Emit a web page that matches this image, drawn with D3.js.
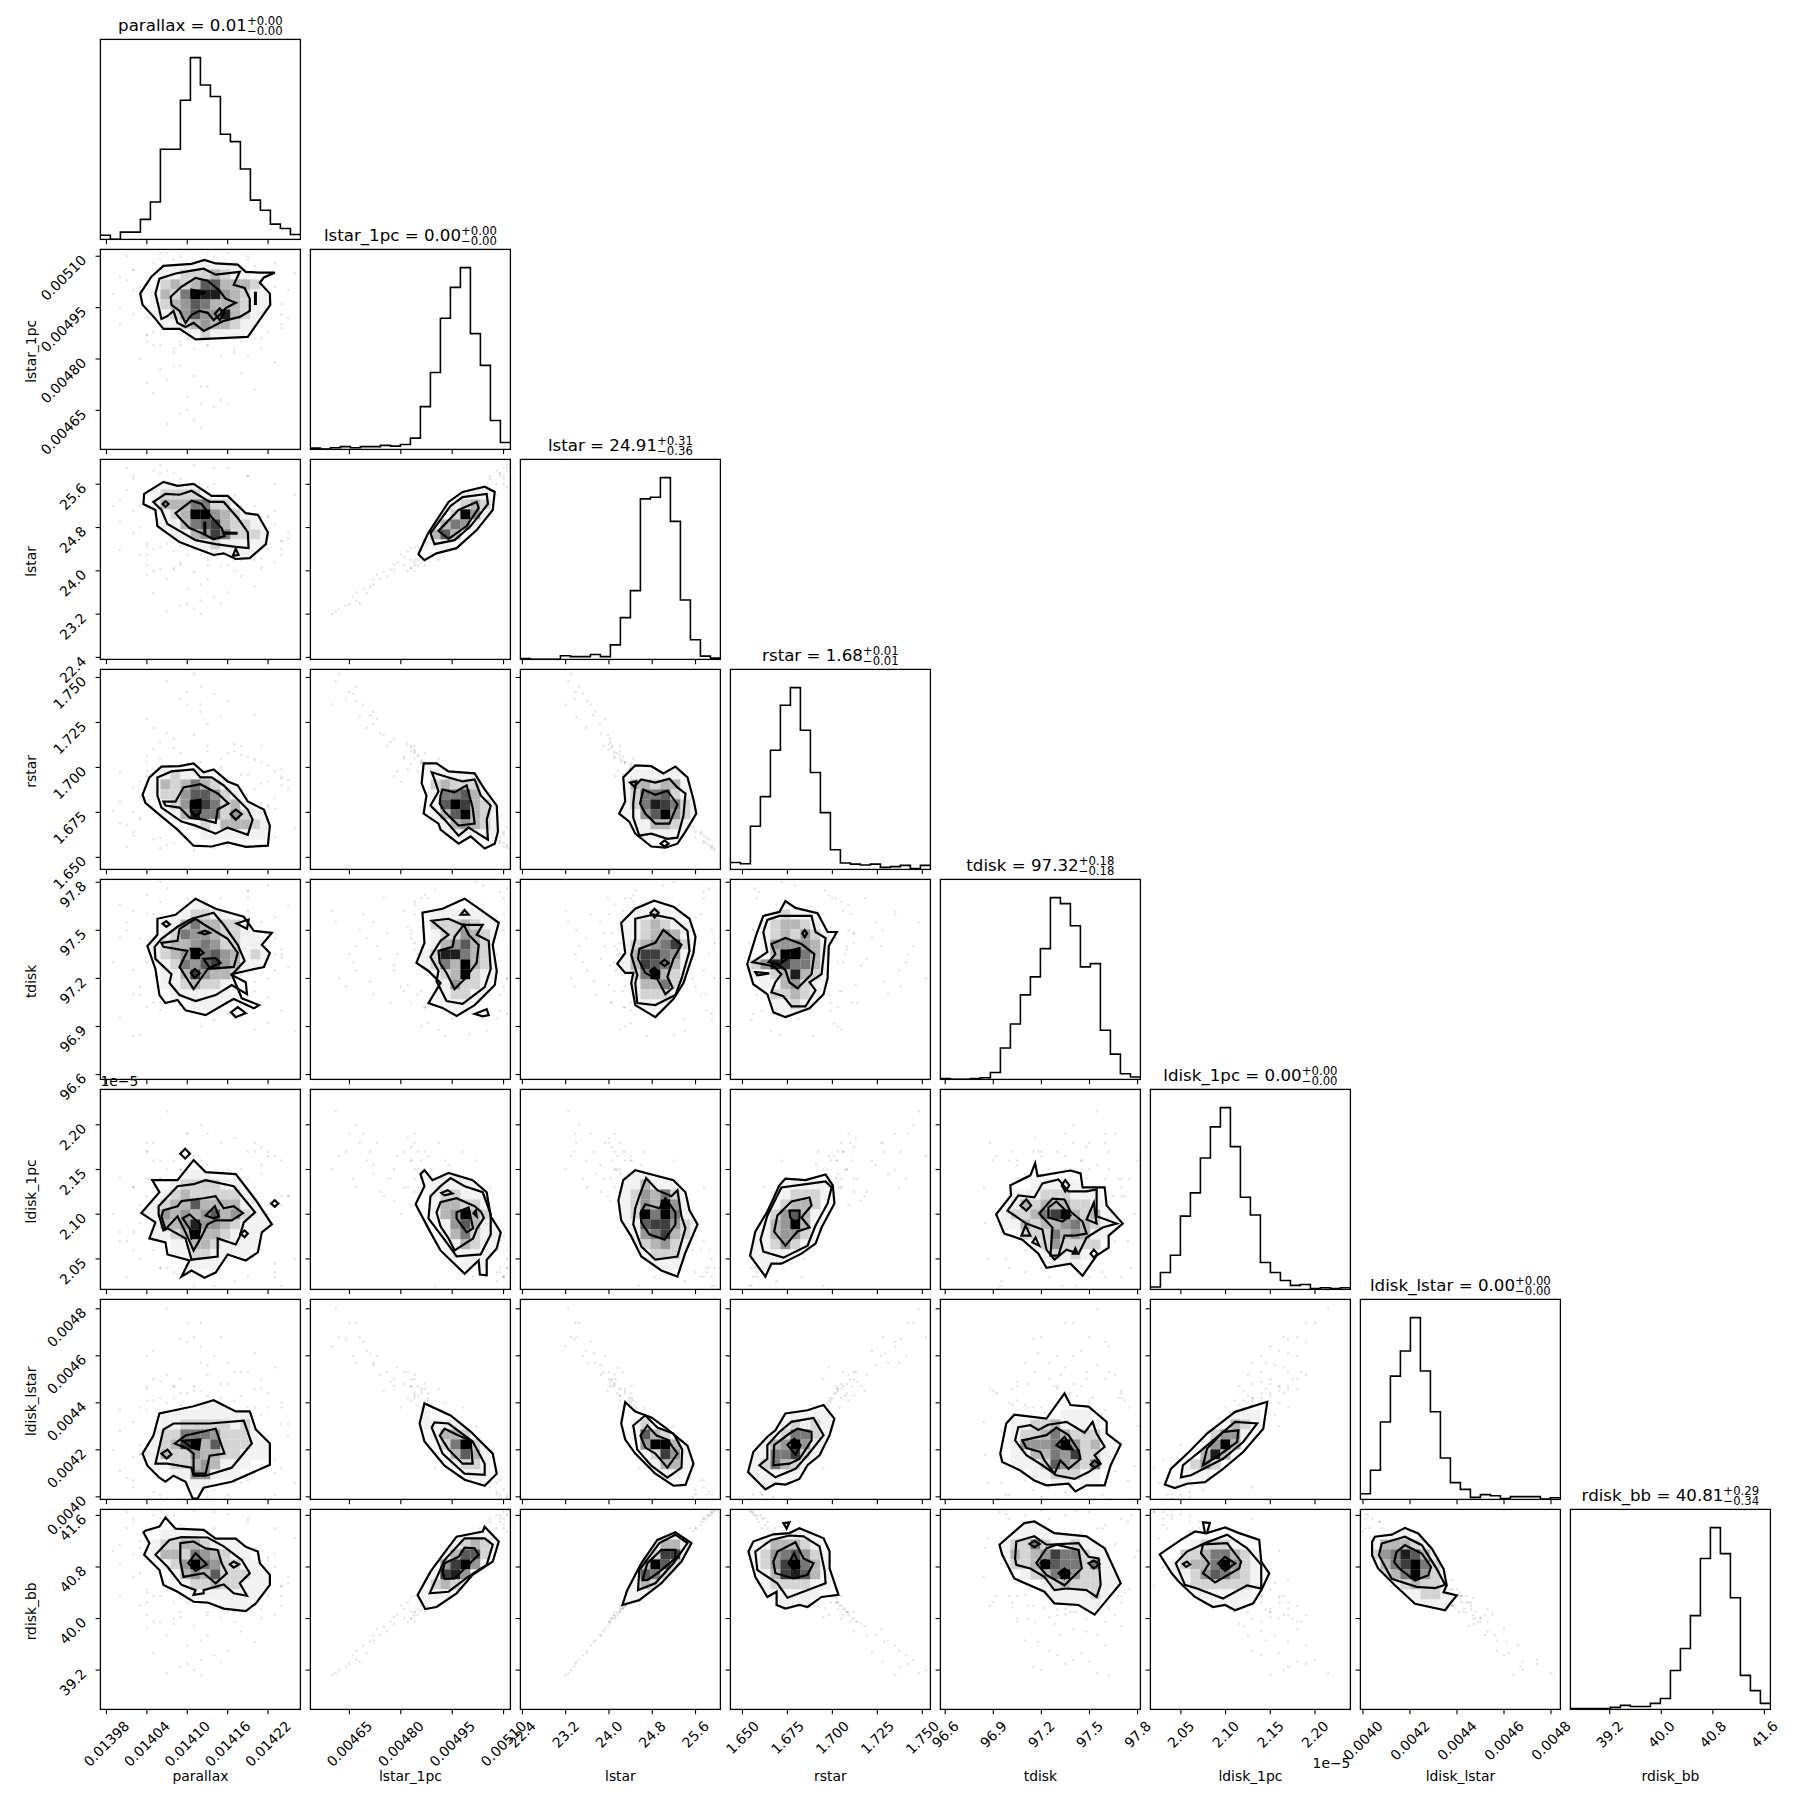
<!DOCTYPE html>
<html><head><meta charset="utf-8">
<script src="https://cdn.jsdelivr.net/npm/d3@7"></script>
<style>html,body{margin:0;padding:0;background:#fff}svg{display:block}text{font-family:"DejaVu Sans";fill:#000}</style>
</head><body><div id="chart"></div>
<script>
const names=["parallax","lstar_1pc","lstar","rstar","tdisk","ldisk_1pc","ldisk_lstar","rdisk_bb"];
const medians=["0.01","0.00","24.91","1.68","97.32","0.00","0.00","40.81"];
const errUp=["0.00","0.00","0.31","0.01","0.18","0.00","0.00","0.29"];
const errDown=["0.00","0.00","0.36","0.01","0.18","0.00","0.00","0.34"];
const ranges=[[.013971,.014268],[.004536,.00512],[22.363,26.06],[1.6433,1.7545],[96.57,97.8176],[2.0159,2.2396],[.003989,.00484],[38.59,41.693]];
const tickValues=[[.01398,.01404,.0141,.01416,.01422],[.00465,.0048,.00495,.0051],[22.4,23.2,24,24.8,25.6],[1.65,1.675,1.7,1.725,1.75],[96.6,96.9,97.2,97.5,97.8],[2.05,2.1,2.15,2.2],[.004,.0042,.0044,.0046,.0048],[39.2,40,40.8,41.6]];
const tickLabels=[["0.01398","0.01404","0.01410","0.01416","0.01422"],["0.00465","0.00480","0.00495","0.00510"],["22.4","23.2","24.0","24.8","25.6"],["1.650","1.675","1.700","1.725","1.750"],["96.6","96.9","97.2","97.5","97.8"],["2.05","2.10","2.15","2.20"],["0.0040","0.0042","0.0044","0.0046","0.0048"],["39.2","40.0","40.8","41.6"]];

// 1-D histograms: 20 bins, peak = 100
const hist_parallax=[2.3,0,4,4,11,20.6,49.6,49.6,76.5,100,84.9,78.6,57.8,53.8,38.7,21.6,16,8.4,6,2.7];
const hist_lstar_1pc=[.7,.2,.9,1.5,.9,1.5,1.5,2.2,1.8,2.7,6.2,23.5,42.3,72.1,89.1,100,63.7,46.2,15.9,3.8];
const hist_lstar=[.4,0,0,0,2,1.5,1.5,2.7,1.5,8,23,37.8,88.3,89.2,100,75.9,32.7,10.8,1.8,.7];
const hist_rstar=[3.8,3.1,23.7,40,65.5,90.3,100,76.5,53.3,31.2,10.8,3.5,2.9,2.4,2.9,1.1,1.5,2.2,.4,2.2];
const hist_tdisk=[.4,0,0,.4,.9,3.8,17.3,30.5,46.5,56.4,71.9,100,96.7,84.5,61.9,63.7,27,13.9,3.1,1.3];
const hist_ldisk_1pc=[1.3,9.3,18.8,40.3,53.1,72.3,89.4,100,78.5,50.7,40.9,14.8,9.3,4.9,2.2,2.7,.4,.9,.4,.9];
const hist_ldisk_lstar=[3.1,16,42.6,67.8,81.6,100,70.6,48.2,22.8,9.2,5.5,1.1,2.6,2,.4,1.5,1.5,1.5,.2,.9];
const hist_rdisk_bb=[.5,.4,.4,.5,1.1,2.2,1.6,1.6,3.3,6,21.4,33.5,51.6,83,100,85.7,61.4,18.7,10.3,3.3];
const hists=[hist_parallax,hist_lstar_1pc,hist_lstar,hist_rstar,hist_tdisk,hist_ldisk_1pc,hist_ldisk_lstar,hist_rdisk_bb];

// faint outlying samples, one array per parameter
const s_parallax=[.01407,.0141,.01411,.01412,.01412,.01409,.01414,.01415,.01416,.01405,.01412,.0141,.01407,.0142,.01418,.01413,.01408,.01404,.01415,.01411,.01423,.01406,.01417,.01409,.01419,.01413,.01403,.01421,.01408,.01414,.01411,.01418,.01406,.01424,.01409,.01416,.01399,.01401,.01403,.01403,.01402,.01404,.014,.01405,.01404,.01406,.01407,.01409,.01412,.01414,.01415,.01417,.01419,.0142,.01421,.01421,.01422,.01423,.01424,.01425,.01424,.01423,.01422,.0142,.01418,.01416,.01413,.0141,.01408,.01405,.01402,.0142,.014,.01402,.01404,.01401,.01403,.01405,.01406,.01408,.01411,.01413,.01416,.01418,.01419,.0142,.01422,.01423,.01425,.01426,.01421,.01419,.01417,.01414,.01409,.01407,.01404,.01402,.014,.01406,.01424,.01422];
const s_lstar_1pc=[.00461,.00465,.00462,.0046,.00467,.00464,.00466,.00468,.00467,.0047,.00472,.00469,.00474,.00471,.00476,.00472,.00478,.00473,.00481,.00475,.00479,.00477,.00483,.00478,.00481,.00484,.0048,.00486,.00482,.00487,.00483,.00488,.00484,.00489,.00485,.0049,.00499,.00503,.00501,.00497,.00506,.00492,.00495,.00508,.00487,.00509,.00489,.0051,.00486,.0051,.00488,.00508,.0049,.00507,.00494,.00502,.00498,.00505,.00496,.005,.00493,.00501,.00504,.00491,.00506,.00487,.00511,.00486,.00509,.00488,.005,.00497,.0049,.00506,.00485,.0051,.005,.00484,.00511,.00483,.00512,.00484,.00511,.00485,.00509,.00486,.00488,.00508,.00492,.00505,.00483,.0051,.00482,.00512,.00484,.00511,.00487,.00493,.00504,.00502,.0049,.00499];
const s_lstar=[23.25,23.38,23.3,23.2,23.45,23.36,23.52,23.4,23.6,23.58,23.75,23.66,23.85,23.72,23.9,23.84,24.02,23.93,24.1,23.98,24.16,24.03,24.2,24.12,24.26,24.2,24.3,24.22,24.36,24.27,24.42,24.25,24.44,24.3,24.46,24.32,25.2,25.5,25.3,24.8,25.75,24.5,24.9,25.85,24.45,25.8,24.5,25.7,24.3,25.6,24.4,25.4,24.5,25.2,24.6,25,24.65,25.1,24.55,24.7,24.4,24.85,25,24.2,25.2,24.1,25.55,24.3,25.8,24.4,25.1,24.7,24.4,25.7,24.1,25.9,25.2,24,25.95,24.05,25.95,24.1,25.9,24.2,25.75,24.25,24.4,25.6,24.6,25.4,24.05,25.75,24,25.9,24.15,25.85,24.3,24.7,25.3,25.2,24.55,25];
const s_rstar=[1.748,1.742,1.752,1.735,1.745,1.738,1.741,1.728,1.737,1.722,1.731,1.735,1.719,1.729,1.712,1.724,1.716,1.727,1.705,1.718,1.698,1.714,1.709,1.695,1.706,1.712,1.692,1.703,1.699,1.688,1.702,1.696,1.705,1.69,1.698,1.687,1.676,1.668,1.672,1.684,1.662,1.695,1.681,1.66,1.698,1.661,1.697,1.663,1.703,1.664,1.7,1.669,1.696,1.674,1.691,1.68,1.692,1.677,1.694,1.688,1.699,1.683,1.679,1.705,1.673,1.708,1.667,1.702,1.658,1.699,1.675,1.688,1.697,1.664,1.706,1.656,1.671,1.71,1.655,1.711,1.654,1.709,1.656,1.707,1.659,1.704,1.701,1.661,1.693,1.666,1.712,1.658,1.713,1.655,1.708,1.657,1.703,1.689,1.669,1.672,1.695,1.678];
const s_tdisk=[97.55,97.35,97.2,97.62,97.4,97.15,97.3,97.5,97.25,97.45,97.1,97.6,97.32,97.18,97.48,97.55,97.28,97.4,97.12,97.7,97.35,97.05,97.5,97.25,97.62,97.42,97.15,97.3,97.52,97.02,97.45,97.22,97.68,97.38,97.1,97.58,97.3,97.55,97.1,97.45,97.25,97.6,96.95,97.35,97.72,97,97.5,97.6,96.9,97.15,97.7,96.95,97.75,97.3,97.05,97.55,97.2,97.45,97.35,97.65,97,97.25,97.78,96.88,97.5,97.4,97.2,97.7,97.1,97.05,97.62,97.3,97.45,97.1,97.3,97.5,96.85,97.6,97.2,97.05,97.42,97.66,96.98,97.35,97.74,97.12,96.92,97.58,97.27,96.87,97.48,97.7,97.16,96.94,97.38,97.76,97.02,96.84,97.66,97.8,97.33,97.08];
const s_ldisk_1pc=[2.215,2.19,2.165,2.15,2.2,2.17,2.14,2.18,2.13,2.16,2.145,2.19,2.125,2.17,2.14,2.155,2.115,2.18,2.13,2.12,2.165,2.14,2.11,2.15,2.17,2.125,2.1,2.145,2.13,2.115,2.16,2.105,2.14,2.12,2.13,2.11,2.1,2.07,2.11,2.05,2.13,2.14,2.08,2.06,2.12,2.04,2.15,2.03,2.16,2.075,2.13,2.025,2.14,2.09,2.155,2.06,2.17,2.045,2.11,2.12,2.16,2.03,2.1,2.18,2.05,2.15,2.06,2.14,2.035,2.13,2.08,2.12,2.14,2.06,2.17,2.03,2.09,2.18,2.04,2.16,2.02,2.19,2.05,2.15,2.07,2.13,2.165,2.035,2.12,2.05,2.175,2.03,2.185,2.02,2.15,2.04,2.17,2.13,2.07,2.16,2.02,2.11];
const s_ldisk_lstar=[.0048,.00474,.00468,.00464,.00474,.00467,.0046,.00468,.00457,.00462,.00457,.00466,.00452,.00461,.00453,.00456,.00447,.0046,.00448,.00445,.00455,.00449,.00441,.0045,.00453,.00443,.00438,.00446,.00442,.00439,.00447,.00436,.00442,.00438,.00439,.00435,.0042,.00408,.00418,.00422,.00404,.00437,.00428,.00402,.00441,.00401,.0044,.00399,.00445,.00403,.00442,.00406,.00438,.0041,.00435,.00419,.00438,.0041,.00431,.00426,.0044,.00416,.00413,.00446,.00406,.00448,.004,.00444,.00398,.00441,.00417,.00425,.00437,.00407,.00447,.00398,.00418,.0045,.00399,.00447,.00395,.00452,.00401,.00443,.00407,.00438,.00444,.00401,.00431,.00406,.0045,.00398,.00453,.00395,.00444,.00399,.00446,.00432,.00411,.0043,.00412,.00423];
const s_rdisk_bb=[39.15,39.3,39.2,39.12,39.36,39.25,39.43,39.33,39.5,39.47,39.66,39.58,39.74,39.64,39.8,39.74,39.92,39.84,40,39.88,40.06,39.95,40.1,40.02,40.15,40.1,40.2,40.14,40.25,40.17,40.32,40.16,40.35,40.2,40.36,40.22,41.05,41.4,41.2,40.7,41.55,40.45,40.85,41.6,40.4,41.55,40.45,41.45,40.25,41.4,40.35,41.25,40.45,41.1,40.55,40.9,40.6,41,40.5,40.65,40.35,40.8,40.95,40.2,41.1,40.1,41.35,40.25,41.6,40.35,41,40.65,40.35,41.5,40.05,41.65,41.1,39.95,41.68,40,41.66,40.05,41.62,40.15,41.5,40.2,40.35,41.4,40.55,41.25,40,41.55,39.95,41.65,40.1,41.6,40.25,40.65,41.15,41.05,40.5,40.9];
const samples=[s_parallax,s_lstar_1pc,s_lstar,s_rstar,s_tdisk,s_ldisk_1pc,s_ldisk_lstar,s_rdisk_bb];

// 2-D density: [row, first column, digits 1..9] on the 20x20 grid
const cells_1_0=[[1,7,"1111111"],[2,6,"112223211"],[3,6,"2323663332"],[4,5,"132598843211"],[5,5,"123465333211"],[6,5,"112464483211"],[7,6,"11234332111"],[8,8,"1121111"]];
const cells_2_0=[[2,5,"11111"],[3,5,"12222111"],[4,5,"133355221"],[5,6,"1239943211"],[6,6,"11356732211"],[7,7,"1134752221"],[8,9,"11211111"],[9,11,"11111"]];
const cells_2_1=[[3,15,"111"],[4,13,"11232"],[5,14,"2941"],[6,12,"13541"],[7,11,"1363"],[8,11,"111"]];
const cells_3_0=[[10,5,"112111"],[11,5,"132353211"],[12,5,"1224664211"],[13,6,"1249752311"],[14,7,"1385524211"],[15,9,"12133321"],[16,10,"1111111"]];
const cells_3_1=[[9,11,"1"],[10,12,"11111"],[11,12,"232221"],[12,12,"1556311"],[13,12,"1697321"],[14,12,"1369321"],[15,13,"134321"],[16,14,"11111"]];
const cells_3_2=[[10,11,"11111"],[11,10,"1332331"],[12,10,"12556211"],[13,10,"12587521"],[14,10,"11469421"],[15,11,"113321"],[16,12,"11111"]];
const cells_4_0=[[2,9,"11"],[3,7,"112211"],[4,6,"113533221"],[5,6,"1254432211"],[6,5,"12334542211"],[7,5,"123495643121"],[8,6,"1254674311"],[9,6,"113743321"],[10,6,"112322111"],[11,7,"111111"],[12,9,"111"]];
const cells_4_1=[[3,12,"1111111"],[4,12,"2223211"],[5,12,"1224321"],[6,12,"1346321"],[7,11,"12885321"],[8,11,"12539321"],[9,12,"1239211"],[10,13,"14221"],[11,12,"112211"],[12,13,"111"]];
const cells_4_2=[[3,11,"11211"],[4,10,"1123211"],[5,10,"1123431"],[6,10,"1234572"],[7,10,"1377541"],[8,9,"11376531"],[9,11,"259321"],[10,11,"133521"],[11,11,"12221"],[12,12,"111"]];
const cells_4_3=[[3,4,"1211"],[4,3,"123321"],[5,3,"1232421"],[6,3,"1444431"],[7,3,"1399531"],[8,2,"24875531"],[9,2,"11238321"],[10,3,"1134211"],[11,4,"22321"],[12,4,"1121"],[13,4,"111"]];
const cells_5_0=[[8,8,"111"],[9,7,"1222211"],[10,6,"1232222211"],[11,5,"12336333311"],[12,4,"1143434634211"],[13,5,"133484432111"],[14,5,"11239332111"],[15,7,"113321111"],[16,7,"11221111"],[17,8,"1111"]];
const cells_5_1=[[8,11,"11111"],[9,12,"11111"],[10,12,"122111"],[11,12,"133221"],[12,12,"1349321"],[13,13,"146311"],[14,13,"135211"],[15,14,"13211"],[16,14,"1111"],[17,15,"111"]];
const cells_5_2=[[8,10,"111"],[9,10,"113111"],[10,10,"1243521"],[11,10,"1243941"],[12,10,"1295951"],[13,10,"11677421"],[14,11,"1457321"],[15,11,"123421"],[16,12,"12221"],[17,12,"1111"]];
const cells_5_3=[[9,5,"11111"],[10,5,"12221"],[11,4,"12332"],[12,3,"124631"],[13,3,"134931"],[14,2,"113442"],[15,2,"112421"],[16,2,"11111"],[17,3,"1"]];
const cells_5_4=[[9,9,"11111"],[10,7,"111222111"],[11,7,"1323332211"],[12,6,"122357932311"],[13,6,"11323345321"],[14,8,"222534311"],[15,9,"1242222"],[16,10,"12121"],[17,11,"111"]];
const cells_6_0=[[10,10,"111"],[11,6,"111111111"],[12,6,"1122222121"],[13,5,"12255542221"],[14,5,"123793622211"],[15,4,"1132243322111"],[16,5,"1122343111"],[17,7,"1144111"],[18,9,"11"]];
const cells_6_1=[[11,11,"1"],[12,11,"1111"],[13,12,"13321"],[14,13,"25921"],[15,14,"3631"],[16,14,"1221"],[17,15,"111"]];
const cells_6_2=[[12,11,"12"],[13,11,"16321"],[14,12,"49931"],[15,13,"2741"],[16,13,"1331"],[17,14,"11"]];
const cells_6_3=[[11,6,"1111"],[12,5,"12121"],[13,3,"1125521"],[14,3,"1349411"],[15,2,"1155721"],[16,2,"125321"],[17,2,"11111"],[18,3,"11"]];
const cells_6_4=[[11,12,"111"],[12,7,"112231111"],[13,7,"1223532221"],[14,7,"14445942311"],[15,7,"1133547221"],[16,7,"1112643251"],[17,9,"1122211"],[18,11,"11"],[18,14,"11"]];
const cells_6_5=[[11,8,"111"],[12,7,"132"],[13,6,"2441"],[14,5,"1493"],[15,5,"383"],[16,3,"1242"],[17,3,"111"],[18,2,"11"]];
const cells_7_0=[[2,6,"1111"],[3,5,"122332111"],[4,5,"1332543211"],[5,6,"1249542211"],[6,7,"1343622211"],[7,8,"122322111"],[8,9,"1111111"],[9,12,"111"]];
const cells_7_1=[[2,15,"1111"],[3,14,"12321"],[4,13,"13662"],[5,13,"47941"],[6,12,"17841"],[7,12,"2321"],[8,11,"111"],[9,11,"1"]];
const cells_7_2=[[2,14,"111"],[3,13,"1331"],[4,13,"2771"],[5,12,"3962"],[6,12,"652"],[7,11,"132"],[8,11,"11"],[9,10,"11"]];
const cells_7_3=[[2,4,"1111"],[3,3,"133321"],[4,2,"12456421"],[5,2,"12479531"],[6,3,"1378631"],[7,3,"1222211"],[8,3,"111111"],[9,4,"1111"]];
const cells_7_4=[[1,8,"11"],[2,7,"1111111"],[3,6,"1225211211"],[4,6,"13234755211"],[5,7,"2239655251"],[6,8,"1235942211"],[7,10,"12322211"],[8,10,"1111121"],[9,11,"11111"]];
const cells_7_5=[[3,4,"12221"],[4,3,"22355321"],[5,2,"123359421"],[6,2,"112465321"],[7,3,"12222221"],[8,4,"111111"],[9,6,"111"]];
const cells_7_6=[[2,3,"11"],[3,1,"133321"],[4,1,"2458631"],[5,1,"1357952"],[6,2,"2359421"],[7,2,"1123221"],[8,3,"111221"],[9,5,"1111"]];

// contours, read in a 0..498 frame of each panel: outer level, then inner levels and islands
const outer_1_0=[[99,110,127,68,157,41,227,36,259,26,287,35,342,38,362,56,397,58,434,58,407,70,397,83,422,110,423,138,395,178,367,218,237,224,197,198,157,198,137,173,105,138]];
const lines_1_0=[[137,110,147,73,187,60,227,53,257,48,287,63,347,56,332,88,359,96,372,123,372,153,347,168,307,178,277,193,257,203,232,183,212,193,192,183,182,153,167,166,152,173,145,143],[175,118,202,93,237,71,267,78,297,103,312,123,337,133,312,146,297,163,282,176,267,158,247,153,227,163,212,183,197,153,177,138],[227,100,262,108,227,118],[285,160,297,147,308,160,297,176],[385,108,387,108,387,136,385,136]];
const outer_2_0=[[107,111,109,86,157,56,192,66,232,61,277,91,317,91,362,134,392,138,417,181,412,211,372,246,337,248,307,234,282,238,237,221,197,206,142,166,137,126]];
const lines_2_0=[[132,106,162,86,197,88,227,78,272,106,307,106,342,146,367,181,369,221,337,218,287,211,237,201,202,181,167,161,152,126],[187,134,227,103,252,111,277,144,302,171,309,191,282,199,257,186,222,171,202,151],[309,182,339,183,339,185,309,185],[259,158,261,158,261,186,259,186],[155,111,162,104,170,111,162,118],[330,240,337,222,344,238]];
const outer_2_1=[[269,236,292,186,344,106,379,81,434,68,459,81,454,126,414,176,364,221,314,234,284,251]];
const lines_2_1=[[299,184,349,116,379,94,439,86,442,111,399,166,359,201,309,211],[319,178,369,126,414,106,419,121,389,166,344,198]];
const outer_3_0=[[105,312,122,269,152,242,197,241,232,234,257,256,282,249,317,279,342,289,367,329,407,349,422,389,417,439,362,442,317,431,277,441,232,439,192,399,152,366,112,332]];
const lines_3_0=[[142,314,142,269,177,254,232,249,249,269,277,269,307,289,332,314,367,349,379,374,367,412,317,394,287,409,237,389,202,379,152,344],[157,329,187,329,207,294,249,286,292,309,319,334,292,349,287,382,257,374,222,369,197,344,162,339],[225,329,249,324,249,356,237,366,225,354],[324,360,337,349,352,360,337,374]];
const outer_3_1=[[282,234,314,234,344,254,409,259,434,299,464,339,467,404,459,434,434,446,399,416,369,434,324,399,319,384,282,359,289,314,277,284]];
const lines_3_1=[[302,256,344,269,379,279,409,274,424,314,449,339,439,374,442,424,394,394,369,414,334,374,299,339,319,304,309,274],[324,314,329,299,359,306,389,289,404,344,409,384,369,389,334,354,322,334]];
const outer_3_2=[[246,359,261,329,256,269,286,239,326,241,356,259,386,242,416,269,431,324,438,359,411,404,391,434,361,444,326,441,286,409,271,379]];
const lines_3_2=[[281,334,286,289,301,274,336,282,371,272,391,294,411,309,406,364,391,419,366,422,326,409,296,414,281,369],[298,334,306,299,336,312,366,302,391,336,371,384,336,384,311,359],[273,282,288,279,286,294],[349,434,359,426,369,434,359,441]];
const outer_4_0=[[117,166,142,138,142,98,187,88,237,48,287,73,357,93,382,128,427,133,402,163,422,183,407,218,327,236,352,296,395,313,382,321,332,298,317,306,262,338,212,326,192,300,162,308,147,288,137,223]];
const lines_4_0=[[135,168,152,148,192,118,227,98,282,83,307,113,342,163,359,203,327,238,362,256,365,286,327,263,287,288,237,303,197,288,172,258,177,236,137,198],[152,158,192,153,197,123,237,98,259,113,317,148,342,183,332,218,267,223,232,273,197,218,217,178,157,168],[155,110,164,104,173,112,164,118],[339,110,369,100,365,123],[247,133,260,128,272,133,260,137],[257,198,287,196,299,208,272,220],[225,173,247,173,257,183,237,196],[225,233,235,223,247,233,235,245],[325,331,342,318,362,333,337,343]];
const outer_4_1=[[264,208,284,158,279,83,329,73,384,48,424,76,469,108,454,163,464,228,459,263,409,313,364,340,329,320,294,308,324,258,294,228]];
const lines_4_1=[[302,103,344,98,379,113,429,113,414,138,444,153,449,223,434,268,379,310,339,303,314,253,319,228,299,193,324,153,344,138],[319,178,354,168,359,143,382,113,394,138,419,163,414,208,384,248,359,273,339,233,322,208],[374,88,384,76,394,88],[409,335,439,323,444,338,429,341]];
const outer_4_2=[[241,210,261,183,251,108,286,73,333,53,381,68,421,98,436,143,431,183,406,258,381,298,336,343,286,313,276,258,281,233,261,233]];
const lines_4_2=[[286,98,331,88,381,98,416,128,421,178,401,248,386,288,336,313,291,308,286,258,291,238,276,188,286,148],[293,198,296,173,336,158,356,126,401,163,381,198,366,243,379,270,361,286,341,248,311,233],[324,83,334,73,344,83,334,95],[349,208,359,200,369,208,359,216],[323,228,334,220,346,233,334,246]];
const outer_4_3=[[42,211,65,136,82,91,122,81,137,54,162,71,217,84,242,131,265,131,245,166,242,246,232,286,197,321,137,343,107,331,92,286,57,261]];
const lines_4_3=[[55,206,92,181,82,131,92,101,122,91,202,91,212,131,237,146,227,236,197,256,212,276,187,316,152,316,132,291,102,281,112,256,127,236,107,216],[95,206,112,186,102,161,137,146,177,161,209,186,202,236,167,271,147,256,137,226,117,211],[179,134,185,126,191,134,185,144],[127,208,132,181,172,171,172,191,147,194],[62,231,97,234,67,239]];
const outer_5_0=[[102,308,147,256,129,226,192,226,232,176,262,206,337,211,372,256,387,276,427,336,402,356,392,406,362,426,317,411,287,456,259,469,227,451,202,466,222,426,167,411,162,381,122,371,137,331]];
const lines_5_0=[[145,311,145,291,192,241,232,236,262,226,332,241,385,306,357,331,347,366,337,386,292,371,292,416,227,424,212,371,167,346,157,351],[157,301,192,291,202,278,257,271,287,266,307,296,332,291,355,308,327,326,287,326,267,336,252,366,232,401,212,356,192,316,162,348,152,316],[199,160,211,148,223,160,211,172],[425,284,434,276,443,284,434,292],[349,359,359,351,367,359,359,368],[205,321,222,311,249,336,247,356,227,371,222,346],[262,314,285,291,295,316,282,321]];
const outer_5_1=[[262,286,284,241,274,211,284,201,304,226,344,208,404,226,439,256,449,316,474,356,464,396,439,424,439,463,422,461,419,426,384,459,324,401,299,356]];
const lines_5_1=[[299,266,324,241,349,221,384,241,429,256,449,311,449,361,424,411,364,416,339,381,294,321],[314,306,324,281,364,271,409,291,425,305,432,320,415,346,405,371,359,401,344,371,324,341],[364,306,394,294,405,346,389,356,364,321],[326,258,342,251,354,259,334,264],[406,308,412,301,414,316]];
const outer_5_2=[[244,276,256,226,286,201,381,226,411,256,421,301,441,336,411,406,391,466,351,451,301,416,276,366,251,326]];
const lines_5_2=[[286,296,296,266,313,221,341,251,376,266,391,251,401,316,411,346,391,416,336,424,301,391,281,336],[299,308,311,286,346,296,361,271,386,306,386,336,359,374,321,361,301,331]];
const outer_5_3=[[49,414,62,354,92,304,122,239,137,222,187,226,237,212,255,239,259,284,227,344,212,384,177,409,127,434,102,434,87,466]];
const lines_5_3=[[75,374,92,314,127,244,202,234,237,229,252,244,242,284,212,339,192,389,132,419,82,404],[109,354,117,314,152,279,197,269,202,289,177,319,197,344,167,354,137,389],[147,302,172,302,172,322,162,334,149,319]];
const outer_5_4=[[139,311,176,264,174,239,224,214,236,184,242,216,324,202,349,209,354,244,409,244,414,289,454,334,419,364,419,394,389,414,354,464,324,434,264,444,244,409,204,374,159,359]];
const lines_5_4=[[167,302,194,264,234,269,254,234,294,224,319,254,364,254,389,249,389,289,389,316,439,334,404,344,364,369,344,409,314,399,284,424,264,399,254,349,214,334],[246,309,279,272,309,274,324,304,354,329,364,359,334,364,309,364,294,414,274,414,279,344],[269,319,269,294,289,279,324,314,304,329],[199,289,214,274,226,289,214,302],[302,239,311,226,321,239,311,254],[364,324,382,282,389,334],[202,364,212,339,224,364],[229,381,237,369,246,389],[330,409,336,396,342,409],[374,409,382,399,391,409,382,419]];
const outer_6_0=[[105,384,132,339,147,284,232,266,282,251,337,279,372,279,387,324,422,359,422,412,327,454,257,469,242,496,230,496,212,454,182,439,162,454,147,444,117,414]];
const lines_6_0=[[137,409,157,324,182,309,272,309,357,302,377,359,327,419,262,439,232,439,227,419,167,409],[185,359,212,339,287,322,309,384,272,389,262,434,232,434,232,384,217,372],[152,384,167,374,177,386,165,396],[205,352,249,349,245,374,227,369]];
const outer_6_1=[[272,309,284,259,349,289,399,329,454,384,464,434,434,464,384,449,334,414,284,354]];
const lines_6_1=[[302,319,309,306,344,309,404,354,434,409,434,437,384,434,329,384],[322,339,334,322,369,339,399,352,404,409,379,409,344,374]];
const outer_6_2=[[251,309,261,256,286,279,326,294,361,319,416,364,431,409,411,462,381,464,336,434,286,384,261,349]];
const lines_6_2=[[281,314,311,289,341,319,381,334,403,374,401,419,366,444,326,414,291,374],[299,339,316,314,339,339,366,349,391,384,366,419,336,384,311,369]];
const outer_6_3=[[44,430,57,380,92,342,112,326,137,284,192,276,232,263,259,297,247,338,222,388,192,413,172,447,137,461,112,459,87,473]];
const lines_6_3=[[72,413,92,397,92,363,122,330,152,305,207,295,232,338,192,388,162,422,112,443],[107,413,109,363,147,334,167,322,202,330,202,351,172,397,147,409],[142,362,159,347,175,363,162,387]];
const outer_6_4=[[149,384,164,309,184,287,264,297,309,234,324,263,369,267,414,305,414,334,449,361,424,413,409,463,364,463,336,478,319,459,264,463,234,451,199,426,154,405]];
const lines_6_4=[[186,351,194,318,224,313,244,325,268,312,314,305,359,332,379,305,389,334,409,367,384,388,399,409,369,430,334,447,289,438,254,413,214,388],[204,351,264,338,289,319,319,338,344,376,349,397,319,422,299,401,284,434,259,401,249,380,214,370],[289,363,309,342,329,373,304,372],[374,411,384,401,396,411,384,419]];
const outer_6_5=[[36,461,51,422,96,380,141,334,211,280,291,255,281,322,231,380,181,422,136,455,91,459,61,470]];
const lines_6_5=[[76,443,81,413,131,372,211,305,266,309,231,355,181,397,101,438],[131,413,141,372,181,330,219,326,216,355,171,388]];
const outer_7_0=[[107,57,112,53,147,43,162,20,187,48,257,51,287,73,337,73,362,93,392,105,397,134,422,163,422,188,387,234,362,253,307,247,267,232,232,230,192,205,157,188,147,151,109,113,122,84]];
const lines_7_0=[[137,113,172,76,202,69,267,70,307,92,352,126,372,159,347,184,365,215,332,209,307,187,257,201,257,209,232,213,237,201,202,188,167,143],[199,84,232,80,262,97,292,101,302,134,315,159,287,184,257,159,207,168,199,130],[219,134,237,109,265,137,237,153],[322,137,332,130,345,137,332,145]];
const outer_7_1=[[267,213,299,155,339,101,364,68,429,55,434,43,469,80,454,130,404,163,364,209,314,243,286,248]];
const lines_7_1=[[297,209,334,126,384,72,434,72,454,88,439,138,394,167,344,205],[329,155,334,134,369,118,384,95,409,97,419,113,384,147,359,172,334,173]];
const outer_7_2=[[254,238,266,201,301,134,341,76,386,57,426,84,401,130,351,184,296,226]];
const lines_7_2=[[293,201,296,151,346,84,386,63,416,84,381,134,336,184],[304,176,316,134,351,101,386,101,386,122,341,159,316,176]];
const outer_7_3=[[45,105,57,80,107,62,147,59,172,47,232,72,247,105,247,147,269,213,227,218,192,243,172,238,137,247,115,238,115,205,92,218,62,168]];
const lines_7_3=[[62,105,102,76,147,65,182,67,222,92,235,155,237,184,142,220,117,184,67,151],[107,130,117,105,162,82,182,122,207,134,192,163,157,172,112,159],[145,134,159,109,172,142,159,149],[132,34,147,32,140,48]];
const outer_7_4=[[147,88,209,34,234,30,284,59,364,67,409,97,449,184,414,226,384,262,344,238,284,234,259,205,184,172,154,113]];
const lines_7_4=[[186,122,189,80,234,67,264,88,344,84,369,118,394,122,399,188,389,218,364,201,314,197,284,201,259,168,224,147,189,138],[239,134,264,97,289,88,344,101,352,147,309,189,264,163],[222,86,234,78,247,86,234,94],[249,134,261,126,272,134,261,145],[294,159,309,147,322,159,309,172],[369,134,382,128,396,136,382,147]];
const outer_7_5=[[23,112,76,76,111,55,136,59,131,32,148,34,141,59,186,45,221,59,271,76,276,130,296,159,276,201,256,234,211,251,186,238,156,243,111,218,71,180,53,159]];
const lines_7_5=[[63,134,91,105,136,84,191,63,241,97,276,138,276,197,241,189,181,222,116,197,86,188],[126,109,131,87,191,84,226,130,221,147,161,182,131,159,146,134],[169,134,186,118,211,134,186,153],[81,136,91,130,99,137,89,143]];
const outer_7_6=[[29,81,36,68,78,63,111,46,144,60,178,98,207,148,215,189,207,206,240,214,223,235,211,251,136,235,86,189,44,147,29,114]];
const lines_7_6=[[46,114,53,85,111,68,153,89,190,148,211,188,186,196,140,193,78,173],[84,131,90,106,111,89,153,110,176,143,169,164,136,177,98,148]];

const panels=[
[1,0,cells_1_0,outer_1_0,lines_1_0],[2,0,cells_2_0,outer_2_0,lines_2_0],[2,1,cells_2_1,outer_2_1,lines_2_1],
[3,0,cells_3_0,outer_3_0,lines_3_0],[3,1,cells_3_1,outer_3_1,lines_3_1],[3,2,cells_3_2,outer_3_2,lines_3_2],
[4,0,cells_4_0,outer_4_0,lines_4_0],[4,1,cells_4_1,outer_4_1,lines_4_1],[4,2,cells_4_2,outer_4_2,lines_4_2],[4,3,cells_4_3,outer_4_3,lines_4_3],
[5,0,cells_5_0,outer_5_0,lines_5_0],[5,1,cells_5_1,outer_5_1,lines_5_1],[5,2,cells_5_2,outer_5_2,lines_5_2],[5,3,cells_5_3,outer_5_3,lines_5_3],[5,4,cells_5_4,outer_5_4,lines_5_4],
[6,0,cells_6_0,outer_6_0,lines_6_0],[6,1,cells_6_1,outer_6_1,lines_6_1],[6,2,cells_6_2,outer_6_2,lines_6_2],[6,3,cells_6_3,outer_6_3,lines_6_3],[6,4,cells_6_4,outer_6_4,lines_6_4],[6,5,cells_6_5,outer_6_5,lines_6_5],
[7,0,cells_7_0,outer_7_0,lines_7_0],[7,1,cells_7_1,outer_7_1,lines_7_1],[7,2,cells_7_2,outer_7_2,lines_7_2],[7,3,cells_7_3,outer_7_3,lines_7_3],[7,4,cells_7_4,outer_7_4,lines_7_4],[7,5,cells_7_5,outer_7_5,lines_7_5],[7,6,cells_7_6,outer_7_6,lines_7_6]];

const left=100.4,top0=39.4,step=210,size=200,tickLen=4.86,FS=13.89;
const svg=d3.select("#chart").append("svg").attr("width",1809).attr("height",1809);
svg.append("rect").attr("width",1809).attr("height",1809).attr("fill","#fff");
const shade=d3.scaleLinear().domain([1,9]).range(["#f2f2f2","#000"]);
const toPath=f=>{const p=d3.path();for(let i=0;i<f.length;i+=2){i?p.lineTo(f[i],f[i+1]):p.moveTo(f[i],f[i+1]);}p.closePath();return p.toString();};

function bottomAxis(g,c,showLabels){
  const x=d3.scaleLinear().domain(ranges[c]).range([0,size]);
  const ax=g.append("g").attr("transform",`translate(0,${size})`).call(
    d3.axisBottom(x).tickValues(tickValues[c]).tickSizeOuter(0).tickSize(tickLen).tickPadding(0).offset(0)
      .tickFormat((d,i)=>showLabels?tickLabels[c][i]:""));
  ax.select(".domain").remove();
  ax.selectAll(".tick line").attr("stroke-width",1.1);
  if(showLabels) ax.selectAll(".tick text").attr("font-size",FS).attr("text-anchor","middle").attr("dy",null).attr("y",null).each(function(){
    const w=this.getComputedTextLength(),W=(w+12)/Math.SQRT2;
    d3.select(this).attr("transform",`translate(0,${tickLen+4.86+W/2}) rotate(-45)`).attr("dominant-baseline","central");
  });
}
function leftAxis(g,r,showLabels){
  const y=d3.scaleLinear().domain(ranges[r]).range([size,0]);
  const ax=g.append("g").call(
    d3.axisLeft(y).tickValues(tickValues[r]).tickSizeOuter(0).tickSize(tickLen).tickPadding(0).offset(0)
      .tickFormat((d,i)=>showLabels?tickLabels[r][i]:""));
  ax.select(".domain").remove();
  ax.selectAll(".tick line").attr("stroke-width",1.1);
  if(showLabels) ax.selectAll(".tick text").attr("font-size",FS).attr("text-anchor","middle").attr("dy",null).attr("x",null).each(function(){
    const w=this.getComputedTextLength(),W=(w+12)/Math.SQRT2;
    d3.select(this).attr("transform",`translate(${-12.4-W/2},${W/2-3}) rotate(-45)`).attr("dominant-baseline","central");
  });
}
function frame(g){g.append("rect").attr("width",size).attr("height",size).attr("fill","none").attr("stroke","#000").attr("stroke-width",1.3);}

// diagonal
names.forEach((n,i)=>{
  const g=svg.append("g").attr("transform",`translate(${left+i*step},${top0+i*step})`);
  const x=d3.scaleLinear().domain([0,20]).range([0,size]);
  const y=d3.scaleLinear().domain([0,110]).range([size,0]);
  const cid="hc"+i;
  g.append("clipPath").attr("id",cid).append("rect").attr("width",size).attr("height",size);
  const vals=hists[i].concat([hists[i][19]]);
  g.append("path").attr("clip-path",`url(#${cid})`).attr("fill","none").attr("stroke","#000").attr("stroke-width",1.6)
    .attr("d",d3.line().curve(d3.curveStepAfter).x((d,k)=>x(k)).y(d=>y(d))(vals));
  frame(g);
  bottomAxis(g,i,i===7);
  // title
  const base=-8;
  const t=g.append("text").attr("y",base).attr("font-size",16.67).text(`${n} = ${medians[i]}`);
  const u=g.append("text").attr("y",base-6.5).attr("font-size",11.7).text("+"+errUp[i]);
  const d=g.append("text").attr("y",base+3.7).attr("font-size",11.7).text("\u2212"+errDown[i]);
  const tw=t.node().getComputedTextLength(),sw=Math.max(u.node().getComputedTextLength(),d.node().getComputedTextLength());
  const x0=size/2-(tw+sw)/2;
  t.attr("x",x0);u.attr("x",x0+tw);d.attr("x",x0+tw);
});

// lower triangle
panels.forEach(([r,c,cells,outer,lines])=>{
  const g=svg.append("g").attr("transform",`translate(${left+c*step},${top0+r*step})`);
  const sx=d3.scaleLinear().domain(ranges[c]).range([0,size]);
  const sy=d3.scaleLinear().domain(ranges[r]).range([size,0]);
  const gx=d3.scaleLinear().domain([0,20]).range([0,size]);
  const u=d3.scaleLinear().domain([0,498]).range([0,size]);
  const scaled=f=>f.map(v=>u(v));
  const pid=`p${r}_${c}`,oid=`o${r}_${c}`;
  g.append("clipPath").attr("id",pid).append("rect").attr("width",size).attr("height",size);
  const body=g.append("g").attr("clip-path",`url(#${pid})`);
  body.selectAll("circle").data(samples[0].map((_,k)=>k)).join("circle")
    .attr("cx",k=>sx(samples[c][k])).attr("cy",k=>sy(samples[r][k])).attr("r",1.3).attr("fill","#000").attr("fill-opacity",.1);
  const cp=g.append("clipPath").attr("id",oid);
  outer.forEach(f=>{
    cp.append("path").attr("d",toPath(scaled(f)));
    body.append("path").attr("d",toPath(scaled(f))).attr("fill","#fff");
  });
  const cg=body.append("g").attr("clip-path",`url(#${oid})`);
  cells.forEach(([row,col,digits])=>{
    digits.split("").forEach((ch,k)=>{
      cg.append("rect").attr("x",gx(col+k)).attr("y",gx(row)).attr("width",gx(1)+.2).attr("height",gx(1)+.2).attr("fill",shade(+ch));
    });
  });
  outer.concat(lines).forEach(f=>{
    body.append("path").attr("d",toPath(scaled(f))).attr("fill","none").attr("stroke","#000").attr("stroke-width",2.2).attr("stroke-linejoin","miter");
  });
  frame(g);
  bottomAxis(g,c,r===7);
  leftAxis(g,r,c===0);
});

// axis titles
names.forEach((n,i)=>{
  if(i>0) svg.append("text").attr("font-size",FS).attr("text-anchor","middle")
    .attr("transform",`translate(36,${top0+i*step+size/2+2}) rotate(-90)`).text(n);
  svg.append("text").attr("font-size",FS).attr("text-anchor","middle").attr("x",left+i*step+size/2).attr("y",1781).text(n);
});
// offset labels
svg.append("text").attr("font-size",FS).attr("x",left).attr("y",top0+5*step-3.5).text("1e\u22125");
svg.append("text").attr("font-size",FS).attr("text-anchor","end").attr("x",left+5*step+size).attr("y",1767.5).text("1e\u22125");
</script></body></html>
